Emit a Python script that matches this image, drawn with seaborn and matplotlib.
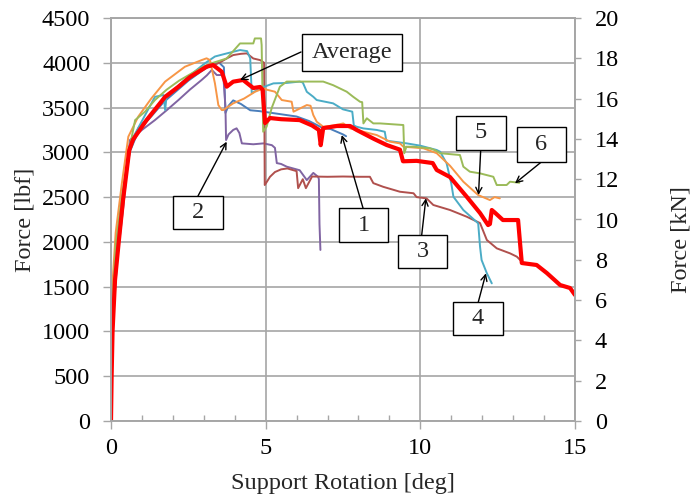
import matplotlib
matplotlib.use("Agg")
import matplotlib.pyplot as plt
from matplotlib.patches import Rectangle
from matplotlib.ticker import MultipleLocator
import seaborn as sns
import pandas as pd

# ---------------- data (support rotation [deg], force [lbf]) ----------------
x1 = [0, 0.03, 0.08, 0.2, 0.4, 0.6, 0.9, 1.3, 1.7, 2.1, 2.5, 2.9, 3.2, 3.5, 3.65, 3.7, 3.8, 3.95,
      4.2, 4.5, 4.8, 5.2, 5.6, 6.0, 6.4, 6.8, 7.1, 7.3, 7.5, 7.6]
y1 = [0, 700, 1300, 1900, 2500, 3000, 3250, 3400, 3560, 3680, 3800, 3900, 3970, 4000, 3950, 3440,
      3520, 3580, 3540, 3470, 3460, 3440, 3420, 3400, 3350, 3280, 3260, 3230, 3200, 3180]

x2 = [0, 0.03, 0.08, 0.2, 0.4, 0.61, 1.0, 1.42, 1.8, 2.18, 2.55, 2.93, 3.1, 3.26, 3.42, 3.63, 3.7,
      3.72, 3.8, 3.95, 4.06, 4.15, 4.23, 4.6, 4.93, 5.2, 5.3, 5.36, 5.5, 5.68, 6.1, 6.33, 6.54, 6.7,
      6.72, 6.74, 6.77]
y2 = [0, 650, 1200, 1800, 2400, 3137, 3250, 3360, 3470, 3584, 3700, 3808, 3860, 3920, 3863, 3863,
      3500, 3137, 3200, 3250, 3268, 3216, 3100, 3090, 3100, 3080, 3050, 2880, 2870, 2840, 2800,
      2690, 2770, 2725, 2700, 2200, 1910]

x3 = [0, 0.03, 0.08, 0.2, 0.4, 0.6, 0.9, 1.3, 1.7, 2.1, 2.5, 2.9, 3.2, 3.5, 3.74, 3.95, 4.2, 4.39,
      4.6, 4.82, 4.95, 4.97, 5.0, 5.14, 5.3, 5.5, 5.7, 6.0, 6.05, 6.2, 6.3, 6.5, 7.0, 7.5, 8.0,
      8.37, 8.48, 8.8, 9.34, 9.78, 9.88, 10.2, 10.42, 10.96, 11.5, 11.93, 12.15, 12.47, 12.9,
      13.12, 13.28]
y3 = [0, 700, 1300, 1900, 2500, 3050, 3280, 3420, 3580, 3700, 3820, 3920, 3960, 4000, 4048, 4086,
      4100, 4105, 4048, 4030, 4000, 2635, 2650, 2727, 2780, 2810, 2820, 2790, 2600, 2700, 2600,
      2730, 2727, 2730, 2727, 2727, 2656, 2615, 2560, 2543, 2500, 2486, 2412, 2356, 2281, 2210,
      2021, 1928, 1872, 1835, 1780]

x4 = [0, 0.02, 0.06, 0.15, 0.35, 0.67, 1.0, 1.42, 1.7, 1.75, 1.8, 2.1, 2.5, 3.04, 3.36, 3.69, 4.17,
      4.4, 4.5, 4.55, 4.8, 5.25, 5.68, 6.1, 6.2, 6.33, 6.54, 6.65, 7.18, 7.5, 7.8, 7.85, 7.94,
      8.16, 8.59, 8.85, 8.9, 9.56, 9.99, 10.53, 10.64, 10.85, 11.0, 11.07, 11.39, 11.87, 11.93,
      11.98, 12.15, 12.31]
y4 = [0, 900, 1450, 1950, 2450, 3137, 3350, 3620, 3640, 3472, 3640, 3720, 3845, 3995, 4070, 4100,
      4142, 4130, 4050, 3660, 3713, 3770, 3775, 3790, 3780, 3676, 3620, 3584, 3547, 3480, 3454,
      3300, 3286, 3267, 3250, 3230, 3130, 3100, 3075, 3026, 3007, 2877, 2653, 2504, 2356, 2207,
      1946, 1798, 1650, 1537]

x5 = [0, 0.02, 0.06, 0.15, 0.35, 0.56, 0.88, 1.3, 1.75, 2.39, 2.93, 3.09, 3.2, 3.36, 3.47, 3.58,
      3.63, 3.95, 4.3, 4.66, 4.93, 5.03, 5.3, 5.52, 5.84, 5.9, 6.33, 6.45, 6.54, 6.65, 6.86, 7.2,
      7.51, 7.73, 8.16, 8.59, 9.02, 9.34, 9.45, 10.1, 10.53, 10.96, 11.39, 11.87, 12.25, 12.4,
      12.57]
y5 = [0, 1000, 1600, 2100, 2650, 3175, 3398, 3600, 3790, 3956, 4030, 4050, 4030, 3770, 3528, 3472,
      3472, 3547, 3600, 3677, 3714, 3700, 3677, 3584, 3565, 3454, 3528, 3520, 3416, 3342, 3286,
      3300, 3323, 3267, 3230, 3193, 3119, 3100, 3063, 3045, 2990, 2850, 2672, 2523, 2467, 2500,
      2486]

x6 = [0, 0.02, 0.06, 0.15, 0.35, 0.6, 0.78, 1.1, 1.42, 1.8, 2.2, 2.6, 3.0, 3.3, 3.74, 4.17, 4.6,
      4.65, 4.71, 4.85, 4.87, 4.92, 5.03, 5.2, 5.46, 5.68, 5.9, 6.86, 7.18, 7.62, 7.83, 8.05,
      8.12, 8.16, 8.27, 8.48, 8.7, 9.45, 9.48, 9.55, 9.78, 10.31, 10.5, 10.64, 11.28, 11.39,
      11.6, 11.93, 12.36, 12.47, 12.79, 12.9, 13.2]
y6 = [0, 850, 1400, 1950, 2500, 3050, 3360, 3454, 3584, 3700, 3800, 3880, 3960, 4000, 4048, 4216,
      4216, 4272, 4272, 4272, 4198, 3230, 3286, 3500, 3733, 3790, 3790, 3790, 3750, 3677, 3620,
      3565, 3560, 3323, 3380, 3323, 3323, 3305, 2990, 3063, 3063, 3045, 3020, 2990, 2970, 2840,
      2784, 2765, 2727, 2635, 2635, 2672, 2660]

x_avg = [0, 0.02, 0.05, 0.13, 0.25, 0.39, 0.59, 0.71, 1.15, 1.75, 2.17, 2.55, 3.09, 3.3, 3.58,
         3.74, 3.95, 4.27, 4.6, 4.82, 4.9, 4.98, 5.14, 5.5, 6.1, 6.5, 6.72, 6.78, 6.86, 7.3, 7.73,
         7.94, 8.5, 8.91, 9.34, 9.44, 9.88, 10.4, 10.53, 10.96, 11.5, 11.93, 12.19, 12.25, 12.31,
         12.4, 12.67, 13.16, 13.22, 13.28, 13.76, 14.09, 14.52, 14.84, 15.0]
y_avg = [0, 500, 1000, 1575, 2000, 2470, 3025, 3140, 3360, 3620, 3730, 3840, 3956, 3975, 3900,
         3733, 3789, 3808, 3718, 3730, 3700, 3327, 3383, 3370, 3360, 3300, 3250, 3080, 3270, 3294,
         3294, 3250, 3150, 3082, 3030, 2900, 2905, 2880, 2803, 2724, 2504, 2322, 2188, 2200, 2356,
         2330, 2244, 2244, 2000, 1764, 1742, 1652, 1518, 1485, 1407]

series_names = ["1", "2", "3", "4", "5", "6"]
series_x = [x1, x2, x3, x4, x5, x6]
series_y = [y1, y2, y3, y4, y5, y6]
series_colors = ["#4A7EBB", "#8064A2", "#B0504D", "#4BACC6", "#F79646", "#9BBB59"]

x_ticks = [0, 5, 10, 15]
y_ticks_lbf = [0, 500, 1000, 1500, 2000, 2500, 3000, 3500, 4000, 4500]
y_ticks_kn = [0, 2, 4, 6, 8, 10, 12, 14, 16, 18, 20]

ann_labels = ["Average", "1", "2", "3", "4", "5", "6"]
ann_x = [4.17, 7.46, 3.74, 10.18, 12.12, 11.88, 13.06]
ann_y = [3808, 3193, 3119, 2487, 1649, 2523, 2654]

# ---------------- figure ----------------
sns.set_theme(style="white")
plt.rcParams["font.family"] = ["Liberation Serif", "DejaVu Serif"]
plt.rcParams["mathtext.fontset"] = "stix"

W, H = 697, 498
fig = plt.figure(figsize=(W / 100, H / 100), dpi=100)
ax = fig.add_axes([111 / W, 1 - 421 / H, (575 - 111) / W, (421 - 18) / H])

grid_c = "#A6A6A6"
fs = 17.5

df = pd.concat([pd.DataFrame({"x": xs, "y": ys, "s": n, "o": range(len(xs))})
                for n, xs, ys in zip(series_names, series_x, series_y)], ignore_index=True)
for n, c in zip(series_names, series_colors):
    d = df[df["s"] == n]
    sns.lineplot(data=d, x="x", y="y", ax=ax, color=c, lw=1.4, sort=False,
                 estimator=None, legend=False)
sns.lineplot(x=x_avg, y=y_avg, ax=ax, color="#FF0000", lw=3.0, sort=False,
             estimator=None, legend=False)

ax.set_xlim(0, 15)
ax.set_ylim(0, 4500)
ax.set_xticks(x_ticks)
ax.xaxis.set_minor_locator(MultipleLocator(1))
ax.set_yticks(y_ticks_lbf)
ax.set_xlabel("")
ax.set_ylabel("")
ax.grid(True, which="major", color=grid_c, lw=1.2)
ax.set_axisbelow(True)
ax.tick_params(axis="y", which="major", direction="out", length=6, width=1, color=grid_c,
               pad=9, labelsize=fs, labelcolor="black", left=True)
ax.tick_params(axis="x", which="major", direction="out", length=6, width=1, color=grid_c,
               pad=6.5, labelsize=fs, labelcolor="black", bottom=True)
ax.tick_params(axis="x", which="minor", direction="in", length=4, width=1, color=grid_c,
               bottom=True)
for sp in ax.spines.values():
    sp.set_color(grid_c)
    sp.set_linewidth(1.2)

ax2 = ax.twinx()
ax2.set_ylim(0, 20)
ax2.set_yticks(y_ticks_kn)
ax2.grid(False)
ax2.tick_params(axis="y", direction="out", length=4.3, width=1, color=grid_c, pad=10,
                labelsize=fs, labelcolor="black", right=True)
for sp in ax2.spines.values():
    sp.set_color(grid_c)
    sp.set_linewidth(1.2)

fig.text(25 / W, 1 - 219.5 / H, "Force [lbf]", rotation=90, ha="center", va="center", fontsize=fs)
fig.text(681 / W, 1 - 240 / H, "Force [kN]", rotation=90, ha="center", va="center", fontsize=fs)
fig.text(343 / W, 1 - 483 / H, "Support Rotation [deg]", ha="center", va="center", fontsize=fs)

# annotation boxes: (x0, y0, x1, y1) in pixels from top-left, arrow start in pixels
boxes = [(302, 34, 402, 71), (339, 208, 388, 242), (173, 196, 223, 229), (398, 235, 447, 268),
         (453, 302, 503, 335), (456, 116, 506, 150), (517, 127, 566, 162)]
starts = [(301, 52), (363, 208), (198, 196), (421.7, 235), (478.3, 302), (480.7, 150),
          (541.7, 161.7)]
for lab, tx, ty, (bx0, by0, bx1, by1), (sx, sy) in zip(ann_labels, ann_x, ann_y, boxes, starts):
    ax.annotate("", xy=(tx, ty), xycoords="data", xytext=(sx, H - sy),
                textcoords="figure pixels",
                arrowprops=dict(arrowstyle="->", color="black", lw=1.0, shrinkA=0, shrinkB=0,
                                mutation_scale=11))
    fig.add_artist(Rectangle((bx0 / W, 1 - by1 / H), (bx1 - bx0) / W, (by1 - by0) / H,
                             transform=fig.transFigure, facecolor="white", edgecolor="black",
                             lw=1.0, zorder=5))
    fig.text((bx0 + bx1) / 2 / W, 1 - (by0 + by1) / 2 / H, lab, ha="center", va="center",
             fontsize=fs, zorder=6)

fig.savefig("out.png", dpi=100)
